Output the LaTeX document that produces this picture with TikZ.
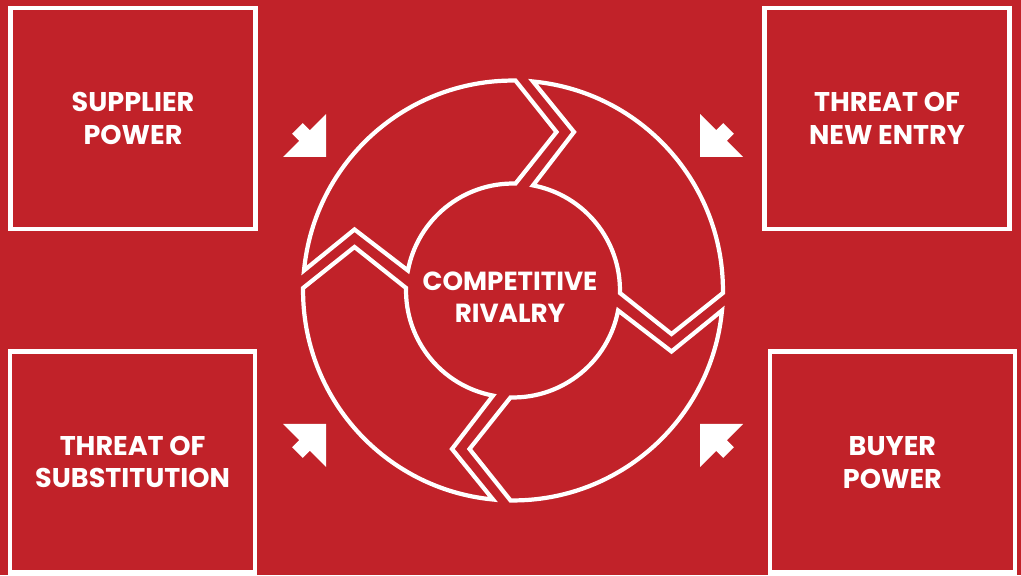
\documentclass[tikz,border=0pt]{standalone}
\usepackage{fontspec}
\setmainfont{Poppins}
\definecolor{porterred}{RGB}{193,34,41}
\tikzset{
  labeltext/.style={text=white, align=center, inner sep=0pt,
    font=\fontsize{15.4}{18.7}\selectfont\bfseries},
  forcebox/.style={labeltext, draw=white, line width=2.6pt,
    minimum width=4.9cm, minimum height=4.42cm},
  ringpart/.style={draw=white, line width=2.4pt, line join=miter},
  pics/pusharrow/.style={code={
    \fill[white] (0,0) -- (-30.4,30.4) -- (-30.4,7.5) -- (-40.4,7.5)
      -- (-40.4,-7.5) -- (-30.4,-7.5) -- (-30.4,-30.4) -- cycle;}}
}
\begin{document}
\begin{tikzpicture}[x=0.02cm, y=0.02cm]
% background
\fill[porterred] (0,0) rectangle (1021,575);
\useasboundingbox (0,0) rectangle (1021,575);

% the four forces
\node[forcebox] (supplier) at (133,456.65) {SUPPLIER\\POWER};
\node[forcebox] (entry) at (887,456.65) {THREAT OF\\NEW ENTRY};
\node[forcebox] (substitution) at (132.65,113) {THREAT OF\\SUBSTITUTION};
\node[forcebox] (buyer) at (892.4,112.75) {BUYER\\POWER};

% cycle of four curved arrows around the centre (radii 210 and 107 units)
\foreach \k in {0,1,2,3} {
  \begin{scope}[shift={(513,284.5)}, rotate=-90*\k]
    \draw[ringpart] (174.53:4.2cm) -- (-158.5,61) -- (169.23:2.14cm)
      arc[start angle=169.23, end angle=88.66, radius=2.14cm]
      -- (43.5,158.5) -- (89.32:4.2cm)
      arc[start angle=89.32, end angle=174.53, radius=4.2cm] -- cycle;
  \end{scope}
}
\node[labeltext, font=\fontsize{14.9}{18.4}\selectfont\bfseries] (rivalry)
  at (510,278) {COMPETITIVE\\RIVALRY};

% arrows pushing inwards
\pic[rotate=-45] (pushTL) at (326,418) {pusharrow};
\pic[rotate=-135] (pushTR) at (700,418) {pusharrow};
\pic[rotate=45] (pushBL) at (326,151) {pusharrow};
\pic[rotate=135] (pushBR) at (700,151) {pusharrow};
\end{tikzpicture}
\end{document}
